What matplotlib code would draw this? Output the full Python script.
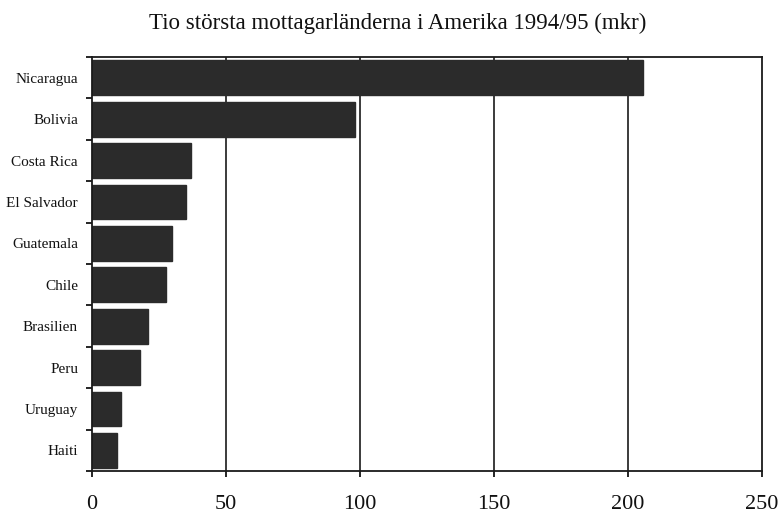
import numpy as np
import matplotlib.pyplot as plt

countries = ['Nicaragua', 'Bolivia', 'Costa Rica', 'El Salvador', 'Guatemala',
             'Chile', 'Brasilien', 'Peru', 'Uruguay', 'Haiti']
values = [205.5, 98, 37, 35, 30, 27.5, 21, 18, 11, 9.5]
xticks = [0, 50, 100, 150, 200, 250]

plt.rcParams['font.family'] = ['Liberation Serif', 'DejaVu Serif']

fig = plt.figure(figsize=(7.81, 5.15), dpi=100)
ax = fig.add_axes([0.1178, 0.0854, 0.858, 0.8039])

y = np.arange(len(countries))
ax.barh(y, values, height=0.84, color='#2b2b2b', edgecolor='#2b2b2b', zorder=2)

ax.set_xlim(0, 250)
ax.set_ylim(len(countries) - 0.5, -0.5)
ax.set_xticks(xticks)
ax.set_xticklabels([str(t) for t in xticks], fontsize=16, color='#111111')
ax.tick_params(axis='x', direction='out', length=4, width=1.2, pad=13)

ax.set_yticks(y)
ax.set_yticklabels(countries, fontsize=11, color='#111111')
ax.tick_params(axis='y', length=0, pad=10)
ax.set_yticks(np.arange(len(countries) + 1) - 0.5, minor=True)
ax.tick_params(axis='y', which='minor', direction='out', length=4, width=1.2)

for x in xticks[1:-1]:
    ax.axvline(x, color='#1a1a1a', linewidth=1.2, zorder=1)

for s in ax.spines.values():
    s.set_linewidth(1.3)
    s.set_color('#1a1a1a')

fig.text(0.509, 0.955, 'Tio största mottagarländerna i Amerika 1994/95 (mkr)',
         ha='center', va='center', fontsize=16.5, color='#111111')

fig.savefig('out.png', dpi=100, facecolor='white')
